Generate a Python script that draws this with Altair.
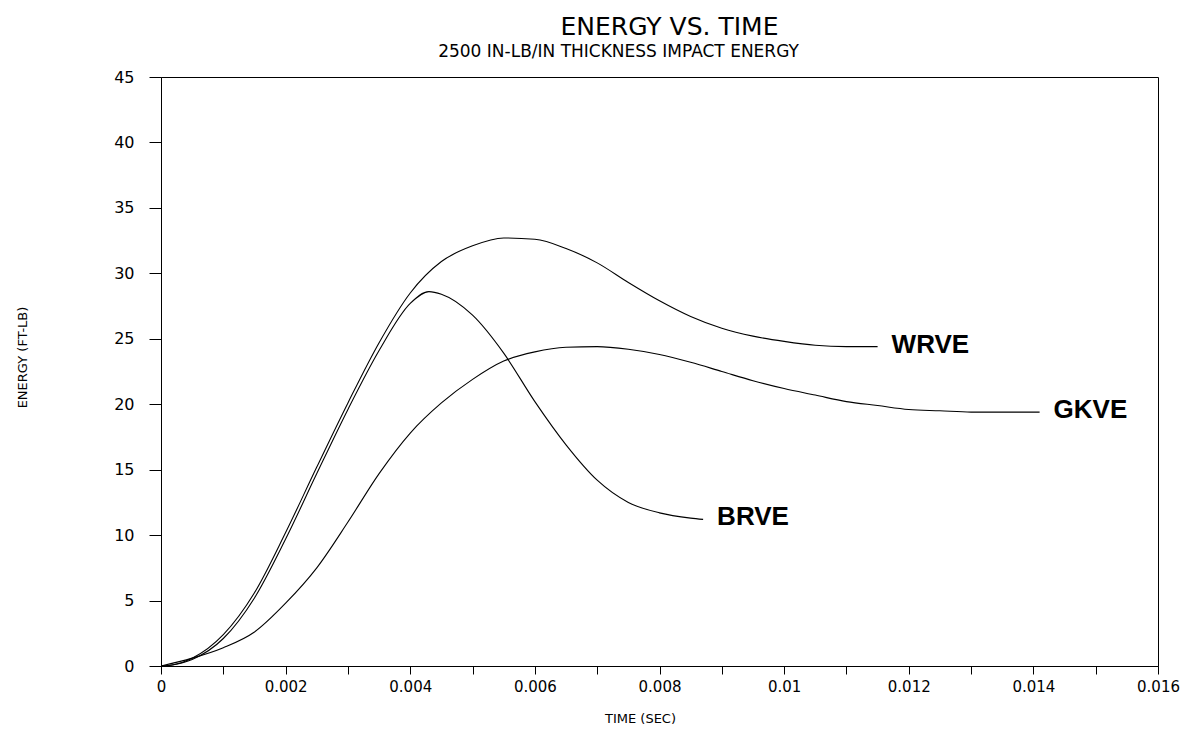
import altair as alt
import pandas as pd

# ---- data ----
wrve_t = [0, 0.0002, 0.0005, 0.001, 0.0015, 0.002, 0.0025, 0.003, 0.0035, 0.004, 0.0045, 0.005,
          0.0055, 0.006, 0.0065, 0.007, 0.0075, 0.008, 0.0085, 0.009, 0.0095, 0.01, 0.0105, 0.011, 0.0115]
wrve_e = [0, 0.1, 0.6, 2.4, 5.6, 10.2, 15.2, 20.1, 24.7, 28.5, 30.9, 32.1,
          32.7, 32.6, 31.9, 30.8, 29.3, 27.9, 26.7, 25.8, 25.2, 24.8, 24.5, 24.4, 24.4]

brve_t = [0, 0.0002, 0.0005, 0.001, 0.0015, 0.002, 0.0025, 0.003, 0.0035, 0.004, 0.0043, 0.0045,
          0.005, 0.0055, 0.006, 0.0065, 0.007, 0.0075, 0.008, 0.0085, 0.0087]
brve_e = [0, 0.1, 0.5, 2.1, 5.2, 9.7, 14.7, 19.6, 24.1, 27.7, 28.6, 28.4,
          26.8, 23.9, 20.2, 16.9, 14.2, 12.5, 11.7, 11.3, 11.2]

gkve_t = [0, 0.0005, 0.001, 0.0015, 0.002, 0.0025, 0.003, 0.0035, 0.004, 0.0045, 0.005, 0.0055,
          0.006, 0.0065, 0.007, 0.0075, 0.008, 0.0085, 0.009, 0.0095, 0.01, 0.0105, 0.011, 0.0115,
          0.012, 0.0125, 0.013, 0.0135, 0.0141]
gkve_e = [0, 0.6, 1.4, 2.6, 4.8, 7.5, 11.0, 14.7, 17.8, 20.1, 21.9, 23.3,
          24.0, 24.35, 24.4, 24.2, 23.8, 23.2, 22.5, 21.8, 21.2, 20.7, 20.2, 19.9,
          19.6, 19.5, 19.4, 19.4, 19.4]

series_names = ["WRVE", "GKVE", "BRVE"]
x_ticks = [i / 1000 for i in range(0, 17)]
y_ticks = list(range(0, 50, 5))

TITLE = "ENERGY VS. TIME"
SUBTITLE = "2500 IN-LB/IN THICKNESS IMPACT ENERGY"
X_TITLE = "TIME (SEC)"
Y_TITLE = "ENERGY (FT-LB)"

# ---- build tables ----
rows = []
for name, ts, es in [("WRVE", wrve_t, wrve_e), ("GKVE", gkve_t, gkve_e), ("BRVE", brve_t, brve_e)]:
    for t, e in zip(ts, es):
        rows.append({"series": name, "t": t, "e": e})
df = pd.DataFrame(rows)

ends = {"WRVE": (wrve_t[-1], wrve_e[-1]), "GKVE": (gkve_t[-1], gkve_e[-1]), "BRVE": (brve_t[-1], brve_e[-1])}
lab = pd.DataFrame([{"series": s, "t": ends[s][0], "e": ends[s][1]} for s in series_names])

FONT = "DejaVu Sans"
xscale = alt.Scale(domain=[0, 0.016], nice=False, zero=False)
yscale = alt.Scale(domain=[0, 45], nice=False)

y_axis = alt.Axis(values=y_ticks, title=Y_TITLE, tickSize=12, labelPadding=15,
                  labelFont=FONT, labelFontSize=16, labelColor="black",
                  titleFont=FONT, titleFontSize=13, titleFontWeight="normal", titleColor="black",
                  titleX=-135, titleY=280, titleBaseline="alphabetic", titleAngle=-90,
                  domainColor="black", tickColor="black", grid=False)

lines = alt.Chart(df).mark_line(color="black", strokeWidth=1.1, interpolate="monotone").encode(
    x=alt.X("t:Q", scale=xscale,
            axis=alt.Axis(values=x_ticks, title=X_TITLE, tickSize=8, labelPadding=5,
                          labelExpr="round(datum.value*1000) % 2 == 0 ? toString(round(datum.value*1000)/1000) : ''",
                          labelFont=FONT, labelFontSize=15, labelColor="black",
                          titleFont=FONT, titleFontSize=13, titleFontWeight="normal", titleColor="black",
                          titleX=479, titleY=46, titleBaseline="top",
                          domainColor="black", tickColor="black", grid=False, labelFlush=False)),
    y=alt.Y("e:Q", scale=yscale, axis=y_axis),
    detail="series:N",
)

labels = alt.Chart(lab).mark_text(align="left", baseline="middle", dx=14, dy=-2,
                                  font="Liberation Sans", fontWeight="bold", fontSize=26,
                                  color="black").encode(
    x=alt.X("t:Q", scale=xscale,
            axis=alt.Axis(orient="top", title=SUBTITLE, labels=False, ticks=False, domain=False,
                          grid=False, titleX=457, titleY=-26, titleBaseline="middle",
                          titleFont=FONT, titleFontSize=17, titleFontWeight="normal", titleColor="black")),
    y=alt.Y("e:Q", scale=yscale, axis=y_axis),
    text="series:N",
)

chart = alt.layer(lines, labels).resolve_axis(x="independent").properties(
    width=997, height=589,
    autosize=alt.AutoSizeParams(type="none"),
    padding={"left": 153, "top": 69, "right": 30, "bottom": 70},
    background="white",
    title=alt.TitleParams(TITLE, font=FONT, fontSize=25, fontWeight="normal", color="black",
                          anchor="middle", frame="group", dx=10, offset=2),
).configure_view(stroke="black", strokeWidth=1)

chart.save("out.html", embed_options={"renderer": "svg", "actions": False})
